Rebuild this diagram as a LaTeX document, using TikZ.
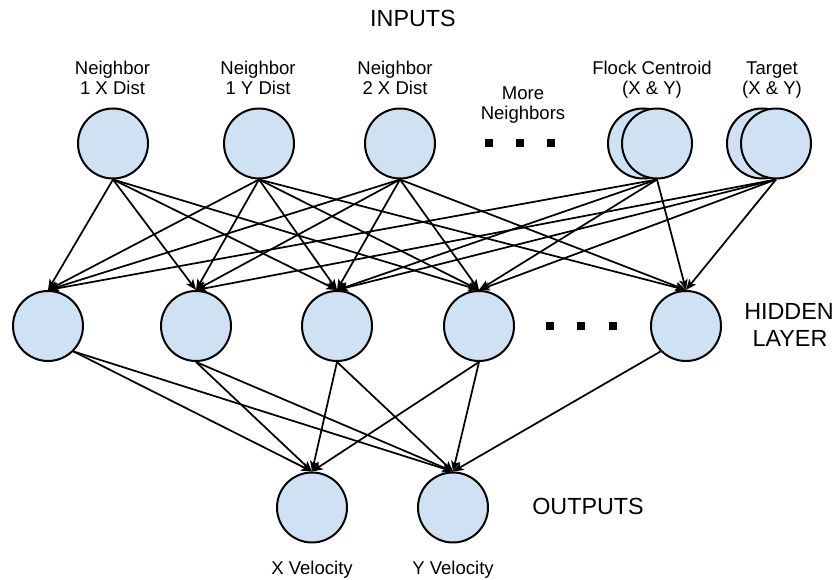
\documentclass[tikz,border=0pt]{standalone}
\usepackage{fontspec}
\setmainfont{Liberation Sans}
\usetikzlibrary{arrows.meta}
\definecolor{cellblue}{HTML}{CFE2F3}
\begin{document}
\begin{tikzpicture}[x=0.75pt,y=-0.75pt,
  neuron/.style={circle, draw=black, line width=1.5pt, fill=cellblue,
                 minimum size=52.5pt, inner sep=0pt},
  lbl/.style={anchor=base, inner sep=0pt, font=\fontsize{13.9}{15}\selectfont},
  head/.style={anchor=base, inner sep=0pt, font=\fontsize{17.5}{19}\selectfont},
  dotsq/.style={rectangle, fill=black, minimum size=6pt, inner sep=0pt},
  link/.style={line width=1.3pt, -{Stealth[length=8pt,width=6.5pt,inset=2pt]}}]
\useasboundingbox (0,0) rectangle (833,580);

% input layer
\node[neuron] (n1) at (113,143.5) {};
\node[neuron] (n2) at (259,143.5) {};
\node[neuron] (n3) at (400,143.5) {};
\node[neuron] (fcb) at (643,143.5) {};
\node[neuron] (fc) at (657,143.5) {};
\node[neuron] (tgb) at (762,143.5) {};
\node[neuron] (tg) at (776,143.5) {};
\node[dotsq] (id1) at (489,143.5) {};
\node[dotsq] (id2) at (520,143.5) {};
\node[dotsq] (id3) at (551,143.5) {};

% hidden layer
\node[neuron] (h1) at (48,326) {};
\node[neuron] (h2) at (196,326) {};
\node[neuron] (h3) at (337,326) {};
\node[neuron] (h4) at (479,326) {};
\node[neuron] (h5) at (686,326) {};
\node[dotsq] (hd1) at (550,326) {};
\node[dotsq] (hd2) at (581,326) {};
\node[dotsq] (hd3) at (613,326) {};

% output layer
\node[neuron] (ox) at (312,507.5) {};
\node[neuron] (oy) at (453,507.5) {};

% texts
\node[head] (tin) at (413,26.5) {INPUTS};
\node[lbl] (l1a) at (112.5,75) {Neighbor};
\node[lbl] (l1b) at (112.5,95) {1 X Dist};
\node[lbl] (l2a) at (258,75) {Neighbor};
\node[lbl] (l2b) at (258,95) {1 Y Dist};
\node[lbl] (l3a) at (395,75) {Neighbor};
\node[lbl] (l3b) at (395,95) {2 X Dist};
\node[lbl] (lma) at (523,100) {More};
\node[lbl] (lmb) at (523,120) {Neighbors};
\node[lbl] (lfa) at (652,75) {Flock Centroid};
\node[lbl] (lfb) at (652,95) {(X \& Y)};
\node[lbl] (lta) at (772,75) {Target};
\node[lbl] (ltb) at (772,95) {(X \& Y)};
\node[head] (thid) at (789,320) {HIDDEN};
\node[head] (tlay) at (790,346.5) {LAYER};
\node[head] (tout) at (588,515) {OUTPUTS};
\node[lbl] (lox) at (312,575) {X Velocity};
\node[lbl] (loy) at (453,575) {Y Velocity};

% input -> hidden
\foreach \h in {h1,h2,h3,h4} \draw[link] (n1.south) -- (\h.north);
\foreach \h in {h1,h2,h3,h4,h5} \draw[link] (n2.south) -- (\h.north);
\foreach \h in {h1,h2,h3,h4,h5} \draw[link] (n3.south) -- (\h.north);
\foreach \h in {h1,h3,h4,h5} \draw[link] (fc.south) -- (\h.north);
\foreach \h in {h2,h3,h4,h5} \draw[link] (tg.south) -- (\h.north);

% hidden -> output
\foreach \o in {ox,oy} {
  \draw[link] (h1.-45) -- (\o.north);
  \draw[link] (h2.south) -- (\o.north);
  \draw[link] (h3.south) -- (\o.north);
  \draw[link] (h4.south) -- (\o.north);
}
\draw[link] (h5.-135) -- (oy.north);
\end{tikzpicture}
\end{document}
